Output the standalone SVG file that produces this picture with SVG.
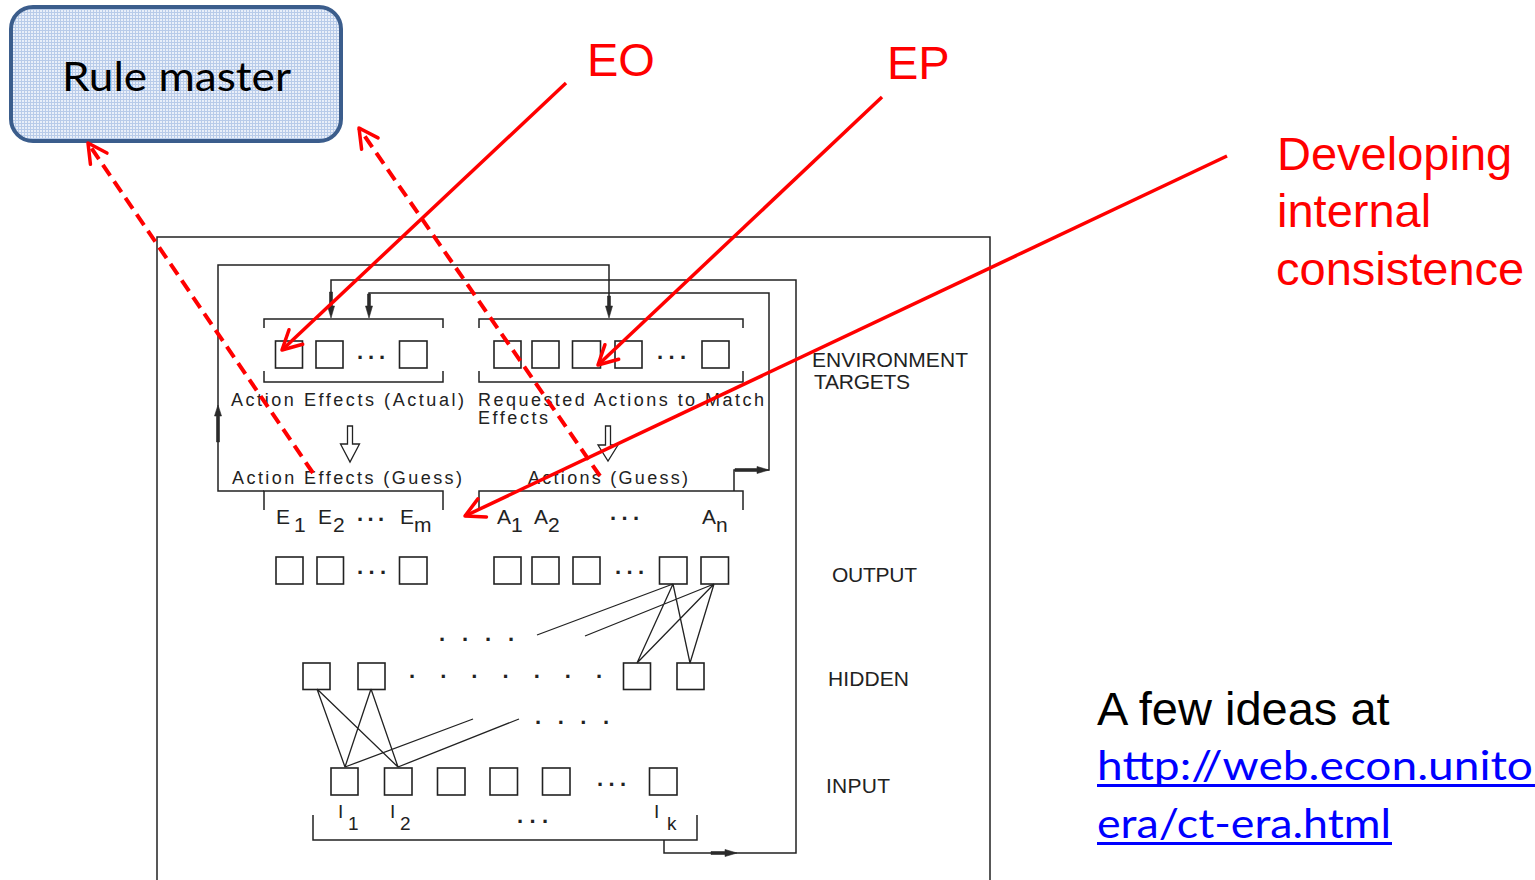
<svg xmlns="http://www.w3.org/2000/svg" width="1535" height="880" viewBox="0 0 1535 880">
<defs>
<style>
.ln{fill:none;stroke:#222;stroke-width:1.5}
.nw{fill:none;stroke:#222;stroke-width:1.3}
.bx{fill:none;stroke:#222;stroke-width:1.6}
.ah{fill:#2a2a2a;stroke:#2a2a2a;stroke-width:0.6}
.ho{fill:#fff;stroke:#222;stroke-width:1.3}
.pl{font-family:"Liberation Sans",Arial,sans-serif;font-size:18px;fill:#222}
.lb{font-family:"Liberation Sans",Arial,sans-serif;font-size:21px;fill:#222}
.sb{font-family:"Liberation Sans",Arial,sans-serif;font-size:21px;fill:#222}
.sm{font-family:"Liberation Sans",Arial,sans-serif;font-size:19px;fill:#222}
.dt{font-family:"Liberation Sans",Arial,sans-serif;font-size:22px;font-weight:bold;fill:#222}
.rd{fill:none;stroke:#ff0000;stroke-width:3.5}
.rdd{fill:none;stroke:#ff0000;stroke-width:4;stroke-dasharray:13 7}
.rt{font-family:"Liberation Sans",Arial,sans-serif;font-size:47px;fill:#ff0000}
.bt{font-family:"Liberation Sans",Arial,sans-serif;font-size:47px;fill:#000}
.lk{font-family:Lato,"Open Sans",sans-serif;font-size:40px;fill:#0000ff}
</style>
<pattern id="grid" width="3" height="3" patternUnits="userSpaceOnUse">
<rect width="3" height="3" fill="#e9eff9"/>
<path d="M0,0.5H3M0.5,0V3" stroke="#b8cbe9" stroke-width="1"/>
</pattern>
<marker id="rv" markerUnits="userSpaceOnUse" viewBox="-25 -15 30 30" markerWidth="30" markerHeight="30" refX="0" refY="0" orient="auto" overflow="visible">
<path d="M-19,-10 L0,0 L-19,10" fill="none" stroke="#ff0000" stroke-width="3.5" stroke-linecap="round" stroke-linejoin="round"/>
</marker>
</defs>
<rect width="1535" height="880" fill="#fff"/>

<!-- outer frame -->
<g id="frame">
<path class="ln" d="M157,880 V237 H990 V880" stroke-width="1.3"/>
</g>

<!-- Rule master -->
<g id="rule-master">
<rect x="11" y="7" width="330" height="134" rx="22" fill="url(#grid)" stroke="#3b5d8c" stroke-width="4"/>
<text x="62" y="91" font-family="Lato,'Open Sans',sans-serif" font-size="40" fill="#000" textLength="229" lengthAdjust="spacingAndGlyphs">Rule master</text>
</g>

<!-- Environment targets: Action Effects (Actual) -->
<g id="targets-actual">
<path class="ln" d="M264,328 V319 H443 V328 M264,371 V382 H443 V371"/>
<rect class="bx" x="275.5" y="341" width="27" height="27"/>
<rect class="bx" x="316" y="341" width="27" height="27"/>
<text class="dt" x="357" y="358.5" textLength="28.1" lengthAdjust="spacing">...</text>
<rect class="bx" x="399.5" y="341" width="27.5" height="27"/>
<text class="pl" x="231" y="406" textLength="233" lengthAdjust="spacing">Action Effects (Actual)</text>
</g>

<!-- Environment targets: Requested Actions -->
<g id="targets-requested">
<path class="ln" d="M479,328 V319 H743 V328 M479,371 V382 H743 V371"/>
<rect class="bx" x="494" y="341" width="27" height="27"/>
<rect class="bx" x="532" y="341" width="27" height="27"/>
<rect class="bx" x="572.5" y="341" width="28" height="27"/>
<rect class="bx" x="615" y="341" width="27" height="27"/>
<text class="dt" x="657" y="358.5" textLength="29.1" lengthAdjust="spacing">...</text>
<rect class="bx" x="702" y="341" width="27" height="27"/>
<text class="pl" x="478" y="406" textLength="286" lengthAdjust="spacing">Requested Actions to Match</text>
<text class="pl" x="478" y="424" textLength="70" lengthAdjust="spacing">Effects</text>
</g>

<g id="env-label">
<text class="lb" x="812" y="367" textLength="156" lengthAdjust="spacing">ENVIRONMENT</text>
<text class="lb" x="814" y="389" textLength="96" lengthAdjust="spacing">TARGETS</text>
</g>

<!-- Guess labels -->
<g id="guess-effects">
<polygon class="ho" points="347.5,426 352.5,426 352.5,444 359.5,444 350,462 340.5,444 347.5,444"/>
<text class="pl" x="232" y="484" textLength="230" lengthAdjust="spacing">Action Effects (Guess)</text>
<path class="ln" d="M264,510 V491 H443 V510"/>
<text class="sb" x="276" y="524">E</text>
<text class="sb" x="294" y="532">1</text>
<text class="sb" x="318" y="524">E</text>
<text class="sb" x="333" y="532">2</text>
<text class="dt" x="357" y="520.5" textLength="27.1" lengthAdjust="spacing">...</text>
<text class="sb" x="400" y="524">E</text>
<text class="sb" x="414" y="532">m</text>
</g>

<g id="guess-actions">
<polygon class="ho" points="605.5,426 610.5,426 610.5,445 618,445 608,461 598,445 605.5,445"/>
<text class="pl" x="528" y="484" textLength="160" lengthAdjust="spacing">Actions (Guess)</text>
<path class="ln" d="M479,510 V491 H743 V510"/>
<text class="sb" x="497" y="524">A</text>
<text class="sb" x="511" y="532">1</text>
<text class="sb" x="534" y="524">A</text>
<text class="sb" x="548" y="532">2</text>
<text class="dt" x="610" y="519.5" textLength="29.1" lengthAdjust="spacing">...</text>
<text class="sb" x="702" y="524">A</text>
<text class="sb" x="716" y="532">n</text>
</g>

<!-- Output layer -->
<g id="output-layer">
<rect class="bx" x="276" y="557" width="27" height="27"/>
<rect class="bx" x="317" y="557" width="26.5" height="27"/>
<text class="dt" x="357" y="573.5" textLength="29.1" lengthAdjust="spacing">...</text>
<rect class="bx" x="399.5" y="557" width="27.5" height="27"/>
<rect class="bx" x="494" y="557" width="27" height="27"/>
<rect class="bx" x="532" y="557" width="27" height="27"/>
<rect class="bx" x="573" y="557" width="27" height="27"/>
<text class="dt" x="615" y="573.5" textLength="29.1" lengthAdjust="spacing">...</text>
<rect class="bx" x="659.5" y="557" width="27.5" height="27"/>
<rect class="bx" x="701" y="557" width="27.5" height="27"/>
<text class="lb" x="832" y="582" textLength="85" lengthAdjust="spacing">OUTPUT</text>
</g>

<!-- Hidden layer -->
<g id="hidden-layer">
<text class="dt" x="439" y="640.5" textLength="75.1" lengthAdjust="spacing">....</text>
<rect class="bx" x="303" y="663" width="27" height="26.5"/>
<rect class="bx" x="358" y="663" width="27" height="26.5"/>
<text class="dt" x="409" y="677.5" textLength="193.1" lengthAdjust="spacing">.......</text>
<rect class="bx" x="623.5" y="663" width="27" height="26.5"/>
<rect class="bx" x="677" y="663" width="27" height="26.5"/>
<text class="dt" x="535" y="723.5" textLength="74.1" lengthAdjust="spacing">....</text>
<text class="lb" x="828" y="686" textLength="81" lengthAdjust="spacing">HIDDEN</text>
</g>

<!-- Input layer -->
<g id="input-layer">
<rect class="bx" x="331" y="768" width="27" height="27"/>
<rect class="bx" x="384.5" y="768" width="27.5" height="27"/>
<rect class="bx" x="437.5" y="768" width="27.5" height="27"/>
<rect class="bx" x="490" y="768" width="27.5" height="27"/>
<rect class="bx" x="542.5" y="768" width="27.5" height="27"/>
<text class="dt" x="597" y="785.5" textLength="29.1" lengthAdjust="spacing">...</text>
<rect class="bx" x="649.5" y="768" width="27.5" height="27"/>
<text class="sm" x="338" y="818">I</text>
<text class="sm" x="348" y="830">1</text>
<text class="sm" x="390" y="818">I</text>
<text class="sm" x="400" y="830">2</text>
<text class="dt" x="517" y="822.5" textLength="31.1" lengthAdjust="spacing">...</text>
<text class="sm" x="654" y="818">I</text>
<text class="sm" x="667" y="830">k</text>
<path class="ln" d="M313,815 V840 H697 V815"/>
<text class="lb" x="826" y="793" textLength="64" lengthAdjust="spacing">INPUT</text>
</g>

<!-- Connectors -->
<g id="connectors">
<path class="ln" d="M264,491 H218 V265 H609 V310"/>
<path class="ln" d="M734,491 V470 H769 V293 H369 V310"/>
<path class="ln" d="M664,840 V853 H796 V280 H331 V310"/>
<polygon class="ah" points="331,318 327.5,306 329.5,306 329.5,292 332.5,292 332.5,306 334.5,306"/>
<polygon class="ah" points="369,318 365.5,306 367.5,306 367.5,294 370.5,294 370.5,306 372.5,306"/>
<polygon class="ah" points="609,318 605.5,306 607.5,306 607.5,296 610.5,296 610.5,306 612.5,306"/>
<polygon class="ah" points="218,405 214.5,416 216.5,416 216.5,442 219.5,442 219.5,416 221.5,416"/>
<polygon class="ah" points="769,470 757,466.5 757,468.5 735,468.5 735,471.5 757,471.5 757,473.5"/>
<polygon class="ah" points="737,853 725,849.5 725,851.5 711,851.5 711,854.5 725,854.5 725,856.5"/>
<path class="nw" d="M673,584 L537,635 M714,584 L585,636 M673,584 L637,663 M673,584 L690,663 M714,584 L637,663 M714,584 L690,663"/>
<path class="nw" d="M317,689 L345,767 M317,689 L398,767 M371,689 L345,767 M371,689 L398,767 M345,767 L473,719 M398,767 L519,719"/>
<line class="rdd" x1="313" y1="473" x2="88" y2="143" marker-end="url(#rv)"/>
<line class="rdd" x1="600" y1="476" x2="359" y2="128" marker-end="url(#rv)"/>
<line class="rd" x1="566" y1="83" x2="282" y2="350" marker-end="url(#rv)"/>
<line class="rd" x1="882" y1="97" x2="598" y2="365" marker-end="url(#rv)"/>
<line class="rd" x1="1227" y1="156" x2="465" y2="516" marker-end="url(#rv)"/>
</g>

<g id="label-eo"><text class="rt" x="587" y="76">EO</text></g>
<g id="label-ep"><text class="rt" x="887" y="79">EP</text></g>
<g id="label-dev">
<text class="rt" x="1277" y="170">Developing</text>
<text class="rt" x="1277" y="227">internal</text>
<text class="rt" x="1276" y="285">consistence</text>
</g>

<g id="note">
<text class="bt" x="1097" y="725">A few ideas at</text>
<text class="lk" x="1097" y="780" textLength="436" lengthAdjust="spacingAndGlyphs">http://web.econ.unito</text>
<rect x="1097" y="784" width="438" height="3" fill="#0000ff"/>
<text class="lk" x="1097" y="838" textLength="294" lengthAdjust="spacingAndGlyphs">era/ct-era.html</text>
<rect x="1097" y="842" width="295" height="3" fill="#0000ff"/>
</g>
</svg>
